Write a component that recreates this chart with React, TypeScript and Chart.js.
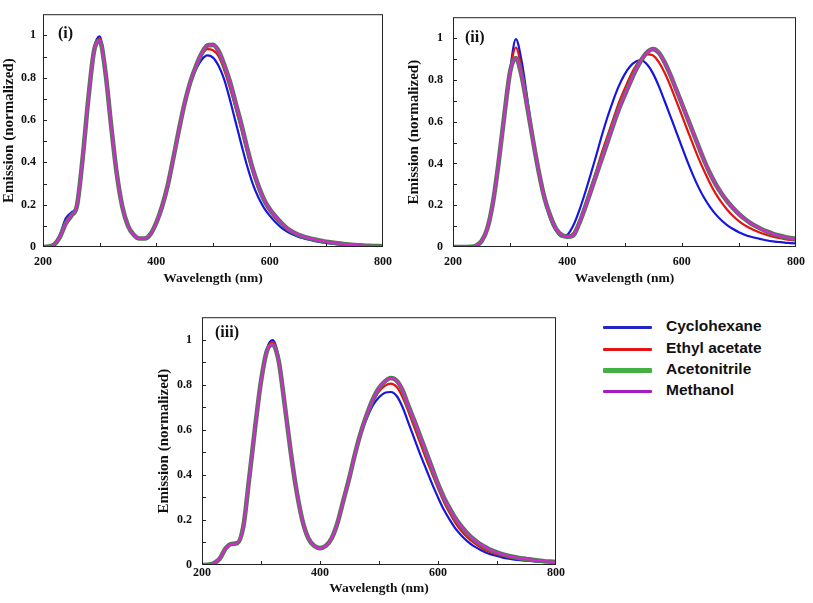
import React, { useEffect, useRef } from "react";
import { Chart, registerables } from "chart.js";

Chart.register(...registerables);

// ---------- data ----------
const wavelengths = [
  200, 210, 220, 230, 240, 250, 260, 270, 280, 290, 300, 310, 320, 330, 340, 350, 360, 370, 380, 390,
  400, 410, 420, 430, 440, 450, 460, 470, 480, 490, 500, 510, 520, 530, 540, 550, 560, 570, 580, 590,
  600, 610, 620, 630, 640, 650, 660, 670, 680, 690, 700, 710, 720, 730, 740, 750, 760, 770, 780, 790, 800,
];

const xTickLabels = [200, 400, 600, 800];
const xInnerTicks = [300, 400, 500, 600, 700];
const yTickLabels = [0, 0.2, 0.4, 0.6, 0.8, 1];
const yInnerTicks = [0.1, 0.2, 0.3, 0.4, 0.5, 0.6, 0.7, 0.8, 0.9, 1.0];

const seriesNames = ["Cyclohexane", "Ethyl acetate", "Acetonitrile", "Methanol"];

// Panel (i)
const cyclohexane1 = [
  0, 0.003, 0.015, 0.06, 0.135, 0.163, 0.2, 0.42, 0.7, 0.935, 0.995, 0.84, 0.58, 0.35, 0.19, 0.1, 0.058, 0.04, 0.042, 0.066,
  0.12, 0.2, 0.3, 0.43, 0.565, 0.68, 0.77, 0.84, 0.885, 0.905, 0.895, 0.855, 0.79, 0.695, 0.59, 0.485, 0.385, 0.3, 0.235, 0.185,
  0.148, 0.118, 0.093, 0.074, 0.06, 0.049, 0.041, 0.034, 0.028, 0.023, 0.019, 0.016, 0.013, 0.011, 0.009, 0.007, 0.006, 0.005, 0.004, 0.003, 0.002,
];
const ethylAcetate1 = [
  0, 0.002, 0.013, 0.05, 0.12, 0.155, 0.198, 0.42, 0.7, 0.93, 0.985, 0.835, 0.58, 0.35, 0.19, 0.1, 0.058, 0.04, 0.04, 0.063,
  0.115, 0.19, 0.29, 0.42, 0.555, 0.675, 0.775, 0.85, 0.905, 0.935, 0.93, 0.9, 0.835, 0.75, 0.655, 0.555, 0.45, 0.355, 0.275, 0.213,
  0.17, 0.136, 0.108, 0.085, 0.068, 0.056, 0.047, 0.04, 0.033, 0.028, 0.023, 0.019, 0.016, 0.013, 0.011, 0.009, 0.007, 0.006, 0.005, 0.004, 0.003,
];
const acetonitrile1 = [
  0, 0.002, 0.012, 0.048, 0.11, 0.148, 0.196, 0.42, 0.7, 0.925, 0.975, 0.83, 0.58, 0.35, 0.19, 0.1, 0.058, 0.04, 0.04, 0.062,
  0.115, 0.19, 0.29, 0.42, 0.555, 0.68, 0.78, 0.855, 0.915, 0.952, 0.955, 0.925, 0.86, 0.78, 0.68, 0.58, 0.47, 0.37, 0.29, 0.225,
  0.18, 0.145, 0.115, 0.09, 0.072, 0.059, 0.049, 0.042, 0.035, 0.029, 0.025, 0.021, 0.017, 0.014, 0.012, 0.009, 0.008, 0.006, 0.005, 0.004, 0.003,
];
const methanol1 = [
  0, 0.002, 0.012, 0.048, 0.11, 0.148, 0.196, 0.42, 0.7, 0.925, 0.975, 0.83, 0.58, 0.35, 0.19, 0.1, 0.058, 0.04, 0.04, 0.062,
  0.115, 0.19, 0.29, 0.42, 0.555, 0.68, 0.78, 0.855, 0.915, 0.952, 0.955, 0.925, 0.86, 0.78, 0.68, 0.58, 0.47, 0.37, 0.29, 0.225,
  0.18, 0.145, 0.115, 0.09, 0.072, 0.059, 0.049, 0.042, 0.035, 0.029, 0.025, 0.021, 0.017, 0.014, 0.012, 0.009, 0.008, 0.006, 0.005, 0.004, 0.003,
];

// Panel (ii)
const cyclohexane2 = [
  0, 0, 0, 0.001, 0.006, 0.028, 0.088, 0.215, 0.41, 0.635, 0.85, 0.995, 0.89, 0.71, 0.52, 0.36, 0.23, 0.135, 0.078, 0.05,
  0.058, 0.1, 0.168, 0.25, 0.34, 0.433, 0.53, 0.62, 0.7, 0.77, 0.825, 0.865, 0.888, 0.893, 0.872, 0.83, 0.77, 0.7, 0.628, 0.555,
  0.482, 0.41, 0.343, 0.283, 0.232, 0.19, 0.155, 0.127, 0.104, 0.086, 0.071, 0.059, 0.05, 0.043, 0.037, 0.031, 0.027, 0.024, 0.021, 0.019, 0.017,
];
const ethylAcetate2 = [
  0, 0, 0, 0.001, 0.006, 0.028, 0.088, 0.215, 0.41, 0.635, 0.845, 0.955, 0.85, 0.685, 0.515, 0.36, 0.232, 0.143, 0.083, 0.054,
  0.05, 0.065, 0.118, 0.195, 0.278, 0.36, 0.45, 0.53, 0.61, 0.69, 0.755, 0.818, 0.868, 0.903, 0.922, 0.917, 0.885, 0.835, 0.773, 0.703,
  0.632, 0.56, 0.49, 0.422, 0.36, 0.303, 0.253, 0.212, 0.177, 0.148, 0.124, 0.105, 0.09, 0.077, 0.066, 0.056, 0.049, 0.043, 0.038, 0.034, 0.031,
];
const acetonitrile2 = [
  0, 0, 0, 0.001, 0.006, 0.028, 0.088, 0.215, 0.41, 0.635, 0.84, 0.905, 0.82, 0.67, 0.51, 0.36, 0.235, 0.15, 0.088, 0.058,
  0.049, 0.055, 0.108, 0.18, 0.258, 0.34, 0.42, 0.5, 0.582, 0.658, 0.725, 0.788, 0.848, 0.898, 0.933, 0.947, 0.93, 0.885, 0.825, 0.757,
  0.688, 0.618, 0.548, 0.478, 0.41, 0.35, 0.298, 0.255, 0.218, 0.186, 0.158, 0.135, 0.115, 0.099, 0.085, 0.073, 0.063, 0.055, 0.048, 0.043, 0.039,
];
const methanol2 = [
  0, 0, 0, 0.001, 0.006, 0.028, 0.088, 0.215, 0.41, 0.635, 0.84, 0.905, 0.82, 0.67, 0.51, 0.36, 0.235, 0.15, 0.088, 0.058,
  0.049, 0.055, 0.108, 0.18, 0.258, 0.34, 0.42, 0.5, 0.582, 0.658, 0.725, 0.788, 0.848, 0.898, 0.933, 0.947, 0.93, 0.885, 0.825, 0.757,
  0.688, 0.618, 0.548, 0.478, 0.41, 0.35, 0.298, 0.255, 0.218, 0.186, 0.158, 0.135, 0.115, 0.099, 0.085, 0.073, 0.063, 0.055, 0.048, 0.043, 0.039,
];

// Panel (iii)
const cyclohexane3 = [
  0, 0.001, 0.008, 0.028, 0.073, 0.094, 0.097, 0.17, 0.385, 0.61, 0.82, 0.96, 0.998, 0.92, 0.725, 0.515, 0.335, 0.2, 0.12, 0.085,
  0.075, 0.086, 0.122, 0.19, 0.29, 0.39, 0.5, 0.59, 0.655, 0.71, 0.745, 0.765, 0.768, 0.75, 0.7, 0.63, 0.56, 0.49, 0.425, 0.36,
  0.3, 0.245, 0.2, 0.16, 0.13, 0.105, 0.085, 0.07, 0.057, 0.047, 0.04, 0.033, 0.028, 0.024, 0.021, 0.019, 0.017, 0.015, 0.014, 0.013, 0.012,
];
const ethylAcetate3 = [
  0, 0.001, 0.008, 0.028, 0.073, 0.094, 0.097, 0.17, 0.385, 0.61, 0.815, 0.955, 0.99, 0.912, 0.72, 0.513, 0.333, 0.2, 0.12, 0.085,
  0.075, 0.085, 0.121, 0.19, 0.29, 0.39, 0.5, 0.593, 0.665, 0.725, 0.77, 0.795, 0.805, 0.79, 0.745, 0.68, 0.61, 0.54, 0.47, 0.405,
  0.34, 0.28, 0.23, 0.185, 0.15, 0.122, 0.1, 0.082, 0.067, 0.056, 0.047, 0.04, 0.034, 0.029, 0.026, 0.023, 0.02, 0.018, 0.016, 0.014, 0.013,
];
const acetonitrile3 = [
  0, 0.001, 0.008, 0.028, 0.073, 0.093, 0.097, 0.17, 0.385, 0.61, 0.815, 0.95, 0.978, 0.905, 0.715, 0.51, 0.333, 0.2, 0.12, 0.085,
  0.075, 0.085, 0.12, 0.19, 0.29, 0.39, 0.5, 0.595, 0.672, 0.738, 0.785, 0.815, 0.83, 0.818, 0.775, 0.705, 0.64, 0.57, 0.5, 0.43,
  0.36, 0.3, 0.25, 0.205, 0.17, 0.14, 0.115, 0.095, 0.08, 0.066, 0.056, 0.047, 0.04, 0.035, 0.03, 0.027, 0.023, 0.02, 0.017, 0.015, 0.013,
];
const methanol3 = [
  0, 0.001, 0.008, 0.028, 0.073, 0.093, 0.097, 0.17, 0.385, 0.61, 0.815, 0.95, 0.978, 0.905, 0.715, 0.51, 0.333, 0.2, 0.12, 0.085,
  0.075, 0.085, 0.12, 0.19, 0.29, 0.39, 0.5, 0.595, 0.672, 0.738, 0.785, 0.815, 0.83, 0.818, 0.775, 0.705, 0.64, 0.57, 0.5, 0.43,
  0.36, 0.3, 0.25, 0.205, 0.17, 0.14, 0.115, 0.095, 0.08, 0.066, 0.056, 0.047, 0.04, 0.035, 0.03, 0.027, 0.023, 0.02, 0.017, 0.015, 0.013,
];

// ---------- styles ----------
const plotColors = ["#1616e0", "#e81010", "#4e7a4e", "#d02ad0"];
const plotWidths = [2.2, 2.2, 4.6, 2.2];
const legendColors = ["#2424c8", "#e41414", "#44b044", "#a41cc4"];
const serif = '"Liberation Serif", "Times New Roman", serif';
const sans = '"Liberation Sans", Arial, sans-serif';
const ink = "#111111";

type Area = { l: number; t: number; r: number; b: number };
type PanelProps = {
  left: number;
  top: number;
  width: number;
  height: number;
  area: Area;
  label: string;
  labelDx: number;
  labelDy: number;
  series: number[][];
  xTickPad: number;
  yTickPad: number;
  xTitlePadBottom: number;
  yTitlePadTop: number;
};

function Panel(p: PanelProps) {
  const ref = useRef<HTMLCanvasElement>(null);
  useEffect(() => {
    const canvas = ref.current;
    if (!canvas) return;
    const framePlugin = {
      id: "frame",
      afterDatasetsDraw(chart: any) {
        const { ctx, chartArea: a, scales } = chart;
        ctx.save();
        ctx.strokeStyle = "#222";
        ctx.lineWidth = 1;
        ctx.strokeRect(a.left + 0.5, a.top + 0.5, a.right - a.left - 1, a.bottom - a.top - 1);
        ctx.beginPath();
        for (const v of xInnerTicks) {
          const px = Math.round(scales.x.getPixelForValue(v)) + 0.5;
          ctx.moveTo(px, a.bottom);
          ctx.lineTo(px, a.bottom - 4);
        }
        for (const v of yInnerTicks) {
          const py = Math.round(scales.y.getPixelForValue(v)) + 0.5;
          ctx.moveTo(a.left, py);
          ctx.lineTo(a.left + 4, py);
        }
        ctx.stroke();
        ctx.fillStyle = ink;
        ctx.font = `bold 16px ${serif}`;
        ctx.textBaseline = "middle";
        ctx.textAlign = "left";
        ctx.fillText(p.label, a.left + p.labelDx, a.top + p.labelDy);
        ctx.restore();
      },
    };
    const chart = new Chart(canvas, {
      type: "line",
      data: {
        datasets: p.series.map((s, i) => ({
          label: seriesNames[i],
          data: wavelengths.map((x, j) => ({ x, y: s[j] })),
          borderColor: plotColors[i],
          backgroundColor: plotColors[i],
          borderWidth: plotWidths[i],
          pointRadius: 0,
          cubicInterpolationMode: "monotone" as const,
          fill: false,
          order: 3 - i,
        })),
      },
      options: {
        responsive: false,
        animation: false,
        devicePixelRatio: 1,
        layout: { padding: { left: 0, top: p.area.t, right: p.width - p.area.r, bottom: 0 } },
        plugins: { legend: { display: false }, tooltip: { enabled: false } },
        scales: {
          x: {
            type: "linear",
            min: 200,
            max: 800,
            grid: { display: false, drawTicks: false },
            border: { display: false },
            ticks: {
              padding: p.xTickPad,
              color: ink,
              maxRotation: 0,
              autoSkip: false,
              font: { family: serif, size: 12, weight: "bold" },
              callback: (v: any) => String(v),
            },
            afterBuildTicks: (s: any) => {
              s.ticks = xTickLabels.map((v) => ({ value: v }));
            },
            afterFit: (s: any) => {
              s.height = p.height - p.area.b;
            },
            title: {
              display: true,
              text: "Wavelength (nm)",
              color: ink,
              font: { family: serif, size: 13.5, weight: "bold" },
              padding: { top: 0, bottom: p.xTitlePadBottom },
            },
          },
          y: {
            type: "linear",
            min: 0,
            max: 1.1,
            grid: { display: false, drawTicks: false },
            border: { display: false },
            ticks: {
              padding: p.yTickPad,
              color: ink,
              font: { family: serif, size: 12, weight: "bold" },
              callback: (v: any) => String(Math.round(Number(v) * 10) / 10),
            },
            afterBuildTicks: (s: any) => {
              s.ticks = yTickLabels.map((v) => ({ value: v }));
            },
            afterFit: (s: any) => {
              s.width = p.area.l;
            },
            title: {
              display: true,
              text: "Emission (normalized)",
              color: ink,
              font: { family: serif, size: 15, weight: "bold" },
              padding: { top: p.yTitlePadTop, bottom: 0 },
            },
          },
        },
      },
      plugins: [framePlugin],
    } as any);
    return () => chart.destroy();
  }, []);
  return (
    <canvas
      ref={ref}
      width={p.width}
      height={p.height}
      style={{ position: "absolute", left: p.left, top: p.top, width: p.width, height: p.height }}
    />
  );
}

function LegendRow({ i, y }: { i: number; y: number }) {
  const thick = i === 2 ? 5 : 3;
  return (
    <>
      <div
        style={{
          position: "absolute",
          left: 603,
          top: y - thick / 2,
          width: 49,
          height: thick,
          background: legendColors[i],
          borderRadius: 1,
        }}
      />
      <div
        style={{
          position: "absolute",
          left: 666,
          top: y - 10,
          height: 20,
          lineHeight: "20px",
          font: `bold 15.5px ${sans}`,
          color: ink,
          whiteSpace: "nowrap",
        }}
      >
        {seriesNames[i]}
      </div>
    </>
  );
}

export default function App() {
  return (
    <div
      style={{
        position: "fixed",
        left: 0,
        top: 0,
        width: 813,
        height: 603,
        background: "#ffffff",
        overflow: "hidden",
      }}
    >
      <Panel
        left={0}
        top={0}
        width={400}
        height={290}
        area={{ l: 43, t: 2, r: 397, b: 247 }}
        label="(i)"
        labelDx={15}
        labelDy={19.5}
        series={[cyclohexane1, ethylAcetate1, acetonitrile1, methanol1]}
        xTickPad={8}
        yTickPad={7}
        xTitlePadBottom={3.4}
        yTitlePadTop={0}
      />
      <Panel
        left={400}
        top={0}
        width={413}
        height={290}
        area={{ l: 53, t: 3, r: 403, b: 247 }}
        label="(ii)"
        labelDx={12}
        labelDy={20.5}
        series={[cyclohexane2, ethylAcetate2, acetonitrile2, methanol2]}
        xTickPad={8}
        yTickPad={10}
        xTitlePadBottom={3.4}
        yTitlePadTop={5}
      />
      <Panel
        left={150}
        top={300}
        width={420}
        height={303}
        area={{ l: 52, t: 17, r: 406, b: 265 }}
        label="(iii)"
        labelDx={13}
        labelDy={15.5}
        series={[cyclohexane3, ethylAcetate3, acetonitrile3, methanol3]}
        xTickPad={1}
        yTickPad={10}
        xTitlePadBottom={6.4}
        yTitlePadTop={5}
      />
      <LegendRow i={0} y={327} />
      <LegendRow i={1} y={349} />
      <LegendRow i={2} y={370} />
      <LegendRow i={3} y={391} />
    </div>
  );
}
